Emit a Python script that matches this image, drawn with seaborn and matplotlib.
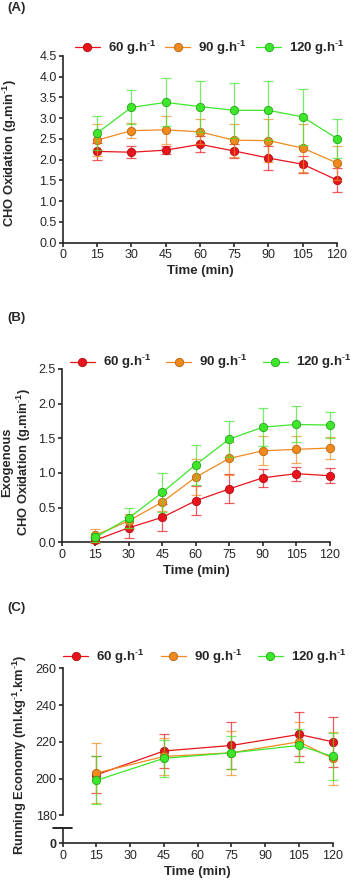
import numpy as np
import pandas as pd
import matplotlib
matplotlib.use("Agg")
import matplotlib.pyplot as plt
import seaborn as sns

sns.set_style("ticks")
plt.rcParams['font.family'] = ['Liberation Sans', 'DejaVu Sans']
plt.rcParams['mathtext.fontset'] = 'custom'
plt.rcParams['mathtext.rm'] = 'Liberation Sans'
plt.rcParams['mathtext.bf'] = 'Liberation Sans:bold'

SUP = r'$^{\mathbf{\text{-}1}}$'

# groups
groups = ['60 g.h' + SUP, '90 g.h' + SUP, '120 g.h' + SUP]
colors = ['#e8141c', '#f08a1e', '#3ee62c']
edges = ['#b00e12', '#b8650f', '#22a818']

# (A) total CHO oxidation
time_a = [15, 30, 45, 60, 75, 90, 105, 120]
cho_60 = [2.20, 2.18, 2.23, 2.37, 2.21, 2.04, 1.89, 1.51]
cho_60_sd = [0.21, 0.15, 0.10, 0.19, 0.17, 0.30, 0.20, 0.29]
cho_90 = [2.47, 2.70, 2.72, 2.67, 2.47, 2.46, 2.28, 1.92]
cho_90_sd = [0.38, 0.18, 0.33, 0.30, 0.40, 0.52, 0.57, 0.41]
cho_120 = [2.64, 3.26, 3.38, 3.28, 3.19, 3.19, 3.03, 2.51]
cho_120_sd = [0.41, 0.41, 0.58, 0.61, 0.66, 0.71, 0.67, 0.47]

# (B) exogenous CHO oxidation
time_b = [15, 30, 45, 60, 75, 90, 105, 120]
exo_60 = [0.03, 0.21, 0.36, 0.60, 0.77, 0.93, 0.99, 0.96]
exo_60_sd = [0.04, 0.15, 0.19, 0.21, 0.21, 0.13, 0.10, 0.11]
exo_90 = [0.10, 0.31, 0.58, 0.94, 1.21, 1.32, 1.34, 1.36]
exo_90_sd = [0.09, 0.10, 0.13, 0.26, 0.24, 0.21, 0.19, 0.16]
exo_120 = [0.07, 0.35, 0.72, 1.12, 1.49, 1.66, 1.70, 1.69]
exo_120_sd = [0.06, 0.14, 0.28, 0.29, 0.26, 0.27, 0.26, 0.19]

# (C) running economy
time_c = [15, 45, 75, 105, 120]
re_60 = [202, 215, 218, 224, 220]
re_60_sd = [10, 9, 13, 12, 13.5]
re_90 = [203, 212, 214, 220, 211]
re_90_sd = [16.5, 10, 12, 11, 14.5]
re_120 = [199, 211, 214, 218, 212]
re_120_sd = [13, 10, 9, 9, 13]

xticks = [0, 15, 30, 45, 60, 75, 90, 105, 120]

fig = plt.figure(figsize=(3.57, 8.88), dpi=100)
ax_a = fig.add_axes([0.176, 0.7267, 0.768, 0.2103])
ax_b = fig.add_axes([0.173, 0.3893, 0.751, 0.1952])
ax_c = fig.add_axes([0.1756, 0.0819, 0.7564, 0.1655])
ax_c0 = fig.add_axes([0.1756, 0.0503, 0.7564, 0.0169])


def draw(ax, t, series, order):
    handles = {}
    for i in order:
        y, sd = series[i]
        df = pd.DataFrame({'t': t, 'y': y})
        ax.errorbar(t, y, yerr=sd, fmt='none', ecolor=colors[i], alpha=0.7,
                    elinewidth=0.9, capsize=3.5, capthick=0.9, clip_on=False,
                    zorder=2 + i)
        sns.lineplot(data=df, x='t', y='y', ax=ax, color=colors[i], lw=0.9,
                     marker='o', markersize=6, markeredgecolor=edges[i],
                     markeredgewidth=0.6, clip_on=False, zorder=3 + i,
                     label=groups[i], legend=False)
        handles[i] = ax.lines[-1]
    return [handles[i] for i in range(3)]


def style(ax, xaxis=True):
    for s in ['top', 'right']:
        ax.spines[s].set_visible(False)
    ax.spines['left'].set_linewidth(1.2)
    ax.spines['bottom'].set_linewidth(1.2)
    ax.tick_params(width=1.2, length=3, labelsize=9, pad=1.5)
    ax.set_xlim(0, 120)
    ax.set_xlabel('')
    ax.set_ylabel('')
    if xaxis:
        ax.set_xticks(xticks)
        ax.set_xlabel('Time (min)', fontsize=9.5, fontweight='bold', labelpad=3)


def legend(ax, handles, x, y, spacing):
    ax.legend(handles=handles, labels=groups, loc='center',
              bbox_to_anchor=(x, y), ncol=3, frameon=False,
              prop={'weight': 'bold', 'size': 9.5}, handlelength=1.9,
              columnspacing=spacing, handletextpad=0.6, borderaxespad=0)


def ylabel(text, x, y):
    fig.text(x / 357, 1 - y / 888, text, rotation=90, ha='center', va='center',
             fontsize=9.3, fontweight='bold', linespacing=1.15)


# panel A
h = draw(ax_a, time_a, [(cho_60, cho_60_sd), (cho_90, cho_90_sd), (cho_120, cho_120_sd)], [0, 1, 2])
style(ax_a)
ax_a.set_ylim(0, 4.5)
ax_a.set_yticks(np.arange(0, 4.51, 0.5))
ax_a.set_yticklabels([f'{v:.1f}' for v in np.arange(0, 4.51, 0.5)])
ylabel('CHO Oxidation (g.min' + SUP + ')', 10, 153)
legend(ax_a, h, 0.536, 1.043, 0.7)

# panel B
h = draw(ax_b, time_b, [(exo_60, exo_60_sd), (exo_90, exo_90_sd), (exo_120, exo_120_sd)], [0, 1, 2])
style(ax_b)
ax_b.set_ylim(0, 2.5)
ax_b.set_yticks(np.arange(0, 2.51, 0.5))
ax_b.set_yticklabels([f'{v:.1f}' for v in np.arange(0, 2.51, 0.5)])
ylabel('Exogenous\nCHO Oxidation (g.min' + SUP + ')', 17, 462)
legend(ax_b, h, 0.555, 1.04, 1.15)

# panel C (broken axis)
h = draw(ax_c, time_c, [(re_60, re_60_sd), (re_90, re_90_sd), (re_120, re_120_sd)], [2, 1, 0])
style(ax_c, xaxis=False)
ax_c.spines['bottom'].set_visible(False)
ax_c.tick_params(axis='x', bottom=False, labelbottom=False)
ax_c.set_ylim(180, 260)
ax_c.set_yticks([180, 200, 220, 240, 260])
legend(ax_c, h, 0.527, 1.077, 1.2)

style(ax_c0)
ax_c0.set_ylim(0, 1)
ax_c0.set_yticks([0])
ax_c0.set_yticklabels(['0'], fontweight='bold')
ax_c0.plot([-0.035, 0.035], [1, 1], transform=ax_c0.transAxes, color='black',
           lw=1.2, clip_on=False)
ylabel('Running Economy (ml.kg' + SUP + '.km' + SUP + ')', 20, 755)

for lbl, y in [('(A)', 8), ('(B)', 318), ('(C)', 608)]:
    fig.text(0.022, 1 - y / 888, lbl, ha='left', va='center', fontsize=9.5, fontweight='bold')

fig.savefig('out.png', dpi=100)
